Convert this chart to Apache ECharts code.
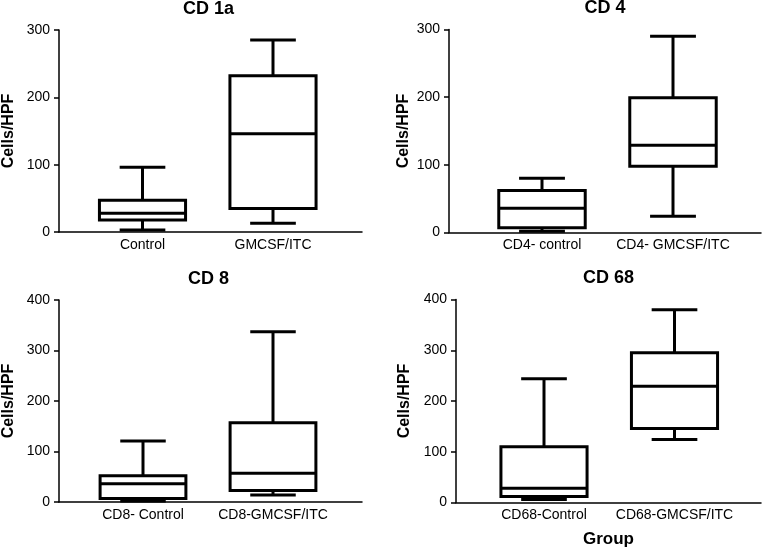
<!DOCTYPE html>
<html>
<head>
<meta charset="utf-8">
<script src="https://cdn.jsdelivr.net/npm/echarts@6/dist/echarts.min.js"></script>
<style>
  html, body { margin: 0; padding: 0; background: #fff; }
  #chart { width: 763px; height: 550px; }
</style>
</head>
<body>
<div id="chart"></div>
<script>
// 各面板的类别
const cd1aLabels = ['Control', 'GMCSF/ITC']
const cd4Labels = ['CD4- control', 'CD4- GMCSF/ITC']
const cd8Labels = ['CD8- Control', 'CD8-GMCSF/ITC']
const cd68Labels = ['CD68-Control', 'CD68-GMCSF/ITC']

// 箱线数据: [min, Q1, median, Q3, max]
const cd1aControl = [3, 18, 28, 47, 96]
const cd1aTreated = [13, 35, 146, 232, 285]
const cd4Control = [2, 7, 36, 62, 80]
const cd4Treated = [24, 98, 129, 199, 290]
const cd8Control = [2, 7, 36, 52, 121]
const cd8Treated = [14, 23, 57, 157, 337]
const cd68Control = [6, 12, 28, 110, 244]
const cd68Treated = [124, 146, 229, 295, 380]

// y轴刻度
const yTicksTop = [0, 100, 200, 300]
const yTicksBottom = [0, 100, 200, 300, 400]

const font = "'Liberation Sans', Arial, sans-serif"

// 面板布局
const panels = [
  { title: 'CD 1a', labels: cd1aLabels, boxes: [cd1aControl, cd1aTreated], ticks: yTicksTop,
    axis: { left: 55, top: 30, width: 307, height: 202 }, inner: { left: 77.25, width: 261 }, nameGap: 42 },
  { title: 'CD 4', labels: cd4Labels, boxes: [cd4Control, cd4Treated], ticks: yTicksTop,
    axis: { left: 449, top: 29.5, width: 312, height: 203 }, inner: { left: 476.5, width: 262 }, nameGap: 37 },
  { title: 'CD 8', labels: cd8Labels, boxes: [cd8Control, cd8Treated], ticks: yTicksBottom,
    axis: { left: 55, top: 300, width: 307, height: 202 }, inner: { left: 78, width: 260 }, nameGap: 42 },
  { title: 'CD 68', labels: cd68Labels, boxes: [cd68Control, cd68Treated], ticks: yTicksBottom,
    axis: { left: 456, top: 299.5, width: 305, height: 203 }, inner: { left: 478.75, width: 261 }, nameGap: 43, xName: 'Group' },
]

// 自定义箱线图绘制
function renderBox(params, api) {
  const x = api.value(0)
  const band = api.size([1, 0])[0]
  const boxHalf = band * 0.33
  const capHalf = band * 0.175
  const pMin = api.coord([x, api.value(1)])
  const pQ1 = api.coord([x, api.value(2)])
  const pMed = api.coord([x, api.value(3)])
  const pQ3 = api.coord([x, api.value(4)])
  const pMax = api.coord([x, api.value(5)])
  const cx = pMin[0]
  const stroke = { stroke: '#000', lineWidth: 3 }
  const line = (x1, y1, x2, y2) => ({ type: 'line', shape: { x1, y1, x2, y2 }, style: stroke })
  return {
    type: 'group',
    children: [
      line(cx, pMax[1], cx, pQ3[1]),
      line(cx, pQ1[1], cx, pMin[1]),
      line(cx - capHalf, pMax[1], cx + capHalf, pMax[1]),
      line(cx - capHalf, pMin[1], cx + capHalf, pMin[1]),
      {
        type: 'rect',
        shape: { x: cx - boxHalf, y: pQ3[1], width: boxHalf * 2, height: pQ1[1] - pQ3[1] },
        style: { stroke: '#000', lineWidth: 3, fill: '#fff' },
      },
      line(cx - boxHalf, pMed[1], cx + boxHalf, pMed[1]),
    ],
  }
}

const grid = []
const xAxis = []
const yAxis = []
const series = []
const title = []

panels.forEach((p, i) => {
  const yMax = p.ticks[p.ticks.length - 1]
  const yStep = p.ticks[1] - p.ticks[0]
  // 外框坐标轴网格
  grid.push({ left: p.axis.left, top: p.axis.top, width: p.axis.width, height: p.axis.height })
  // 箱体网格
  grid.push({ left: p.inner.left, top: p.axis.top, width: p.inner.width, height: p.axis.height })

  title.push({
    text: p.title,
    left: p.axis.left + p.axis.width / 2,
    top: p.axis.top - 30,
    padding: 0,
    textAlign: 'center',
    textStyle: { fontFamily: font, fontSize: 18, fontWeight: 'bold', color: '#000' },
  })

  xAxis.push({
    type: 'value',
    gridIndex: i * 2,
    min: 0,
    max: 1,
    axisLine: { show: true, lineStyle: { color: '#000', width: 1.5 } },
    axisTick: { show: false },
    axisLabel: { show: false },
    splitLine: { show: false },
    name: p.xName || '',
    nameLocation: 'middle',
    nameGap: 28,
    nameTextStyle: { fontFamily: font, fontSize: 17, fontWeight: 'bold', color: '#000' },
  })
  xAxis.push({
    type: 'category',
    gridIndex: i * 2 + 1,
    data: p.labels,
    axisLine: { show: false },
    axisTick: { show: false },
    axisLabel: { fontFamily: font, fontSize: 14, color: '#000', margin: 6, interval: 0 },
  })

  yAxis.push({
    type: 'value',
    gridIndex: i * 2,
    min: 0,
    max: yMax,
    interval: yStep,
    axisLine: { show: true, lineStyle: { color: '#000', width: 1.5 } },
    axisTick: { show: true, length: 5, lineStyle: { color: '#000', width: 1.5 } },
    axisLabel: { fontFamily: font, fontSize: 14, color: '#000', margin: 9 },
    splitLine: { show: false },
    name: 'Cells/HPF',
    nameLocation: 'middle',
    nameGap: p.nameGap,
    nameTextStyle: { fontFamily: font, fontSize: 16, fontWeight: 'bold', color: '#000' },
  })
  yAxis.push({
    type: 'value',
    gridIndex: i * 2 + 1,
    min: 0,
    max: yMax,
    show: false,
  })

  series.push({
    type: 'custom',
    xAxisIndex: i * 2 + 1,
    yAxisIndex: i * 2 + 1,
    renderItem: renderBox,
    encode: { x: 0, y: [1, 2, 3, 4, 5] },
    data: p.boxes.map((b, k) => [k, ...b]),
    silent: true,
  })
})

const chart = echarts.init(document.getElementById('chart'), null, { renderer: 'canvas' })
chart.setOption({
  backgroundColor: '#fff',
  animation: false,
  title,
  grid,
  xAxis,
  yAxis,
  series,
})
</script>
</body>
</html>
